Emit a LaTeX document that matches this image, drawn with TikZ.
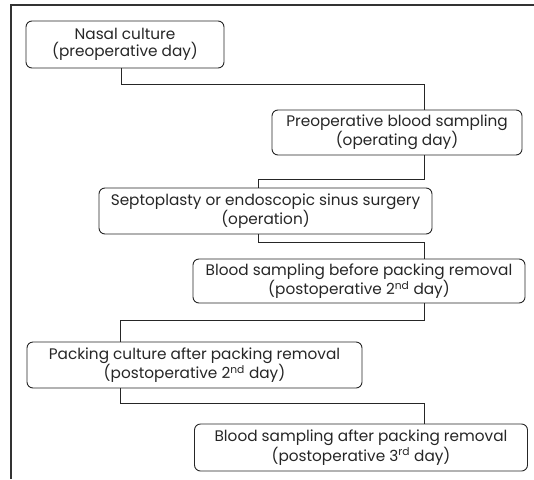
\documentclass[tikz,border=0pt]{standalone}
\usepackage{fontspec}
\setmainfont{Poppins}
\begin{document}
\begin{tikzpicture}[x=1pt,y=-1pt,
  stepbox/.style={draw=black!85, line width=0.9pt, rounded corners=6pt, inner sep=0pt, outer sep=0pt,
    align=center, font=\fontsize{15.3}{17}\selectfont, text=black!85},
  link/.style={draw=black!85, line width=0.9pt},
  frame/.style={draw=black!80, line width=1.4pt}]
\useasboundingbox (0,0) rectangle (534,479);
\draw[frame] (534,5) -- (11,5) -- (11,479);

\node[stepbox, minimum width=198pt, minimum height=47pt] (n1) at (125,44.5) {Nasal culture\\(preoperative day)};
\node[stepbox, minimum width=250pt, minimum height=45pt] (n2) at (397,132.5) {Preoperative blood sampling\\(operating day)};
\node[stepbox, minimum width=333pt, minimum height=46pt] (n3) at (265.5,211) {Septoplasty or endoscopic sinus surgery\\(operation)};
\node[stepbox, minimum width=332pt, minimum height=44pt] (n4) at (359,281) {Blood sampling before packing removal\\(postoperative 2\textsuperscript{nd} day)};
\node[stepbox, minimum width=335pt, minimum height=46pt] (n5) at (194.5,365) {Packing culture after packing removal\\(postoperative 2\textsuperscript{nd} day)};
\node[stepbox, minimum width=333pt, minimum height=47pt] (n6) at (361,447.5) {Blood sampling after packing removal\\(postoperative 3\textsuperscript{rd} day)};

\coordinate (xa) at (121,0);
\coordinate (xb) at (424.5,0);
\coordinate (xc) at (258,0);
\coordinate (xd) at (120.5,0);
\coordinate (h1) at (0,84);
\coordinate (h2) at (0,179);
\coordinate (h3) at (0,242);
\coordinate (h4) at (0,320.5);
\coordinate (h5) at (0,403);

\draw[link] (xa |- n1.south) -- (xa |- h1) -- (xb |- h1) -- (xb |- n2.north);
\draw[link] (xb |- n2.south) -- (xb |- h2) -- (xc |- h2) -- (xc |- n3.north);
\draw[link] (xc |- n3.south) -- (xc |- h3) -- (xb |- h3) -- (xb |- n4.north);
\draw[link] (xb |- n4.south) -- (xb |- h4) -- (xd |- h4) -- (xd |- n5.north);
\draw[link] (xd |- n5.south) -- (xd |- h5) -- (xb |- h5) -- (xb |- n6.north);
\end{tikzpicture}
\end{document}
